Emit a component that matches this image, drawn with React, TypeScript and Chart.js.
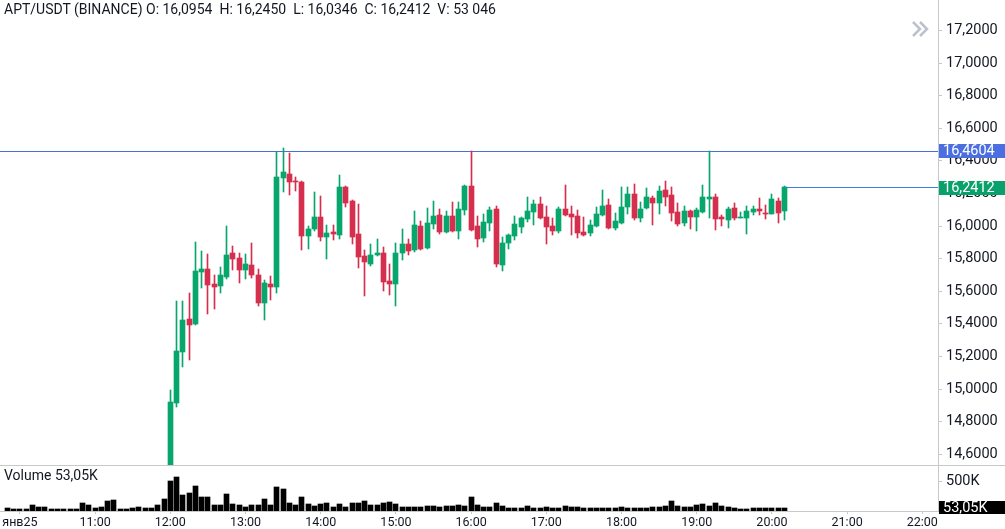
import React, { useEffect, useRef } from "react";
import { Chart, registerables } from "chart.js";
Chart.register(...registerables);

// ---------- data ----------
const START_MIN = 590; // 09:50, 5-minute candles
const STEP_MIN = 5;

const opens = [
  14.30, 14.31, 14.32, 14.31, 14.30, 14.24, 14.27, 14.29, 14.30, 14.29, 14.30, 14.31, 14.30, 14.38, 14.35, 14.34, 14.36, 14.44, 14.40, 14.41, 14.40, 14.42, 14.41, 14.42, 14.41, 14.44,
  14.42, 14.916, 15.229, 15.429, 15.401, 15.718, 15.736, 15.644, 15.632, 15.687, 15.834, 15.804, 15.730, 15.761, 15.699, 15.528, 15.644, 15.626, 16.294, 16.319,
  16.276, 16.270, 15.939, 15.982, 16.055, 15.933, 15.963, 15.945, 16.239, 16.153, 15.951, 15.816, 15.767, 15.822, 15.834, 15.663, 15.644, 15.834, 15.890, 15.853,
  16.000, 15.865, 16.012, 16.067, 15.963, 16.061, 15.969, 16.098, 16.245, 16.000, 15.926, 16.018, 16.104, 15.761, 15.896, 15.939, 15.994, 16.043, 16.086, 16.135,
  16.055, 16.000, 15.969, 16.104, 16.074, 16.061, 15.963, 15.957, 16.000, 16.067, 16.129, 15.988, 16.018, 16.117, 16.196, 16.049, 16.110, 16.172, 16.141, 16.221,
  16.190, 16.086, 16.018, 16.092, 16.055, 16.086, 16.166, 16.178, 16.055, 16.037, 16.110, 16.049, 16.049, 16.086, 16.104, 16.080, 16.074, 16.153, 16.0954,
];
const highs = [
  14.33, 14.33, 14.34, 14.33, 14.31, 14.28, 14.31, 14.31, 14.32, 14.31, 14.32, 14.33, 14.40, 14.41, 14.37, 14.38, 14.47, 14.50, 14.42, 14.43, 14.43, 14.46, 14.43, 14.44, 14.45, 14.50,
  14.994, 15.540, 15.540, 15.589, 15.902, 15.847, 15.828, 15.699, 15.748, 16.000, 15.877, 15.834, 15.828, 15.896, 15.736, 15.669, 15.693, 16.454, 16.480, 16.448,
  16.301, 16.276, 16.000, 16.209, 16.184, 16.006, 16.006, 16.313, 16.245, 16.160, 16.135, 15.853, 15.890, 15.920, 15.871, 15.767, 15.896, 15.982, 15.920, 16.092,
  16.031, 16.110, 16.153, 16.104, 16.092, 16.147, 16.147, 16.252, 16.4604, 16.061, 16.074, 16.117, 16.123, 15.933, 15.951, 16.061, 16.055, 16.178, 16.160, 16.178,
  16.123, 16.049, 16.117, 16.252, 16.123, 16.098, 16.055, 16.037, 16.117, 16.221, 16.166, 16.080, 16.239, 16.239, 16.258, 16.147, 16.233, 16.184, 16.245, 16.276,
  16.239, 16.141, 16.123, 16.098, 16.110, 16.252, 16.4604, 16.196, 16.067, 16.117, 16.141, 16.086, 16.123, 16.123, 16.172, 16.129, 16.196, 16.172, 16.2450,
];
const lows = [
  14.27, 14.29, 14.30, 14.29, 14.22, 14.21, 14.25, 14.27, 14.28, 14.27, 14.28, 14.29, 14.29, 14.33, 14.32, 14.33, 14.35, 14.38, 14.38, 14.39, 14.38, 14.40, 14.39, 14.40, 14.37, 14.36,
  14.38, 14.891, 15.137, 15.178, 15.393, 15.620, 15.460, 15.491, 15.589, 15.675, 15.730, 15.650, 15.675, 15.681, 15.509, 15.423, 15.546, 15.589, 16.209, 16.190,
  16.215, 15.853, 15.859, 15.969, 15.908, 15.798, 15.914, 15.920, 16.117, 15.890, 15.742, 15.571, 15.755, 15.816, 15.601, 15.577, 15.509, 15.791, 15.822, 15.840,
  15.853, 15.859, 15.982, 15.951, 15.957, 15.963, 15.920, 16.067, 15.969, 15.871, 15.902, 15.969, 15.749, 15.724, 15.859, 15.914, 15.957, 16.025, 16.006, 16.043,
  15.890, 15.945, 15.957, 16.061, 15.945, 15.926, 15.940, 15.939, 15.994, 16.061, 15.982, 15.975, 16.012, 16.074, 16.037, 16.025, 16.104, 16.006, 16.074, 16.123,
  16.031, 16.000, 16.000, 15.982, 15.969, 16.080, 16.049, 15.975, 16.000, 15.988, 16.037, 16.049, 15.951, 16.067, 16.067, 16.043, 16.074, 16.018, 16.0346,
];
const closes = [
  14.31, 14.32, 14.31, 14.30, 14.24, 14.27, 14.29, 14.30, 14.29, 14.30, 14.31, 14.30, 14.38, 14.35, 14.34, 14.36, 14.44, 14.40, 14.41, 14.40, 14.42, 14.41, 14.42, 14.41, 14.44, 14.42,
  14.920, 15.233, 15.423, 15.393, 15.724, 15.736, 15.638, 15.626, 15.699, 15.822, 15.798, 15.730, 15.767, 15.699, 15.528, 15.650, 15.626, 16.301, 16.331, 16.270,
  16.270, 15.939, 15.982, 16.055, 15.933, 15.957, 15.951, 16.239, 16.141, 15.933, 15.810, 15.779, 15.822, 15.834, 15.656, 15.644, 15.834, 15.890, 15.847, 16.006,
  15.859, 16.018, 16.061, 15.963, 16.061, 15.969, 16.104, 16.245, 15.975, 15.920, 16.025, 16.098, 15.767, 15.896, 15.945, 16.012, 16.049, 16.092, 16.135, 16.049,
  15.994, 15.969, 16.104, 16.067, 16.055, 15.957, 15.945, 16.006, 16.074, 16.123, 15.988, 16.031, 16.117, 16.196, 16.049, 16.104, 16.178, 16.141, 16.215, 16.178,
  16.080, 16.012, 16.092, 16.055, 16.098, 16.178, 16.178, 16.043, 16.043, 16.104, 16.049, 16.055, 16.092, 16.104, 16.092, 16.074, 16.166, 16.080, 16.2412,
];
const volumes = [
  51000, 34000, 34000, 34000, 102000, 73000, 73000, 34000, 34000, 34000, 34000, 34000, 141000, 102000, 51000, 62000, 164000, 181000, 34000, 34000, 51000, 73000, 51000, 51000, 102000, 209000,
  514000, 582000, 277000, 311000, 429000, 243000, 243000, 102000, 102000, 294000, 124000, 102000, 73000, 102000, 102000, 209000, 102000, 412000, 379000, 141000,
  102000, 243000, 124000, 85000, 124000, 136000, 68000, 119000, 68000, 136000, 141000, 175000, 102000, 102000, 136000, 158000, 119000, 68000, 68000, 68000,
  68000, 85000, 85000, 68000, 85000, 85000, 102000, 85000, 237000, 102000, 68000, 68000, 141000, 85000, 51000, 51000, 51000, 85000, 51000, 51000,
  68000, 51000, 51000, 85000, 68000, 68000, 51000, 51000, 51000, 51000, 51000, 51000, 68000, 51000, 51000, 51000, 51000, 68000, 68000, 85000,
  175000, 85000, 68000, 68000, 102000, 119000, 85000, 141000, 85000, 68000, 51000, 34000, 34000, 51000, 51000, 51000, 51000, 51000, 53046,
];
const times = opens.map((_, i) => START_MIN + STEP_MIN * i);

const priceTicks = [14.6, 14.8, 15.0, 15.2, 15.4, 15.6, 15.8, 16.0, 16.2, 16.4, 16.6, 16.8, 17.0, 17.2];
const timeTicks = [600, 660, 720, 780, 840, 900, 960, 1020, 1080, 1140, 1200, 1260, 1320];
const timeTickLabels = ["янв25", "11:00", "12:00", "13:00", "14:00", "15:00", "16:00", "17:00", "18:00", "19:00", "20:00", "21:00", "22:00"];
const volumeTicks = [500000];
const markedLevel = 16.4604;
const symbolTitle = "APT/USDT (BINANCE)";

// ---------- view ----------
const X_MIN = 584.1;
const X_MAX = 1332.5;
const P_MIN = 14.534;
const P_MAX = 17.387;
const V_MAX = 760000;
const UP = "#07a66d";
const DOWN = "#d62f4d";
const AXIS = "#c8c8c8";
const TEXT = "#131722";
const FONT = "Roboto";
const W = 1005;
const AXIS_W = 67;

const fmtPrice = (v: number) => v.toFixed(4).replace(".", ",");
const fmtVolK = (v: number) => (v / 1000).toFixed(2).replace(".", ",") + "K";
const fmtVolInt = (v: number) => String(Math.round(v)).replace(/\B(?=(\d{3})+(?!\d))/g, " ");

const snapPlugin = {
  id: "snap",
  afterDatasetsUpdate(chart: any) {
    chart.data.datasets.forEach((_: any, di: number) => {
      const meta = chart.getDatasetMeta(di);
      meta.data.forEach((el: any) => {
        const w = Math.round(el.width);
        el.x = w % 2 === 1 ? Math.floor(el.x) + 0.5 : Math.round(el.x);
        el.y = Math.round(el.y);
        el.base = Math.round(el.base);
      });
    });
  },
};

const noPad = (s: any) => {
  s.paddingTop = 0;
  s.paddingBottom = 0;
  s.paddingLeft = 0;
  s.paddingRight = 0;
};

function axisBox(ctx: any, x: number, yc: number, text: string, bg: string, h = 14) {
  const top = Math.round(yc - h / 2);
  ctx.fillStyle = bg;
  ctx.fillRect(x, top, W - x, h);
  ctx.fillStyle = "#ffffff";
  ctx.font = `14.5px ${FONT}`;
  ctx.textBaseline = "middle";
  ctx.textAlign = "left";
  ctx.fillText(text, x + 4, top + h / 2 + 0.5);
}

const priceOverlay = {
  id: "priceOverlay",
  beforeDatasetsDraw(chart: any) {
    const { ctx, chartArea, scales } = chart;
    const y = scales.y;
    ctx.save();
    ctx.strokeStyle = "#4a6fd9";
    ctx.lineWidth = 1;
    const yh = Math.round(y.getPixelForValue(markedLevel)) + 0.5;
    ctx.beginPath();
    ctx.moveTo(0, yh);
    ctx.lineTo(chartArea.right, yh);
    ctx.stroke();
    ctx.restore();
  },
  afterDraw(chart: any) {
    const { ctx, chartArea, scales } = chart;
    const x = scales.x;
    const y = scales.y;
    const last = closes.length - 1;
    ctx.save();
    const yc = Math.round(y.getPixelForValue(closes[last])) + 0.5;
    const xl = Math.round(x.getPixelForValue(times[last])) + 3;
    ctx.strokeStyle = "#3f7fe0";
    ctx.lineWidth = 1;
    ctx.beginPath();
    ctx.moveTo(xl, yc);
    ctx.lineTo(chartArea.right, yc);
    ctx.stroke();
    const yh = y.getPixelForValue(markedLevel);
    axisBox(ctx, chartArea.right + 1, yh, fmtPrice(markedLevel), "#4b6fe0");
    axisBox(ctx, chartArea.right + 1, yc, fmtPrice(closes[last]), "#08a06b");
    // scroll chevrons
    ctx.strokeStyle = "#bcc2cc";
    ctx.lineWidth = 2.5;
    ctx.lineCap = "butt";
    [913, 920].forEach((sx) => {
      ctx.beginPath();
      ctx.moveTo(sx, 22);
      ctx.lineTo(sx + 7, 29);
      ctx.lineTo(sx, 36);
      ctx.stroke();
    });
    ctx.restore();
  },
};

const volumeOverlay = {
  id: "volumeOverlay",
  afterDraw(chart: any) {
    const { ctx, chartArea } = chart;
    const last = volumes.length - 1;
    ctx.save();
    const h = 13;
    const top = 35;
    ctx.fillStyle = "#000000";
    ctx.fillRect(chartArea.right + 1, top, W - chartArea.right - 1, h);
    ctx.fillStyle = "#ffffff";
    ctx.font = `14.5px ${FONT}`;
    ctx.textBaseline = "middle";
    ctx.textAlign = "left";
    ctx.fillText(fmtVolK(volumes[last]), chartArea.right + 5, top + h / 2 + 0.5);
    ctx.restore();
  },
};

export default function App() {
  const priceRef = useRef<HTMLCanvasElement>(null);
  const volRef = useRef<HTMLCanvasElement>(null);

  useEffect(() => {
    const colors = opens.map((o, i) => (closes[i] >= o ? UP : DOWN));
    const price = new Chart(priceRef.current!, {
      type: "bar",
      data: {
        datasets: [
          {
            label: "body",
            data: times.map((t, i) => ({ x: t, y: [opens[i], closes[i]] })) as any,
            backgroundColor: colors,
            borderWidth: 0,
            barThickness: 5,
            minBarLength: 1,
            grouped: false,
          },
          {
            label: "wick",
            data: times.map((t, i) => ({ x: t, y: [lows[i], highs[i]] })) as any,
            backgroundColor: colors,
            borderWidth: 0,
            barThickness: 1,
            grouped: false,
          },
        ],
      },
      options: {
        animation: false,
        responsive: false,
        maintainAspectRatio: false,
        layout: { padding: 0 },
        plugins: { legend: { display: false }, tooltip: { enabled: false } },
        scales: {
          x: { type: "linear", min: X_MIN, max: X_MAX, display: false, offset: false, grid: { offset: false } },
          y: {
            type: "linear",
            position: "right",
            min: P_MIN,
            max: P_MAX,
            afterFit(s: any) {
              s.width = AXIS_W;
              noPad(s);
            },
            afterBuildTicks(s: any) {
              s.ticks = priceTicks.map((v) => ({ value: v }));
            },
            ticks: {
              callback: (v: any) => fmtPrice(Number(v)),
              font: { family: FONT, size: 14.5 },
              color: TEXT,
              padding: 4,
            },
            grid: { drawOnChartArea: false, tickLength: 4, color: AXIS },
            border: { color: AXIS },
          },
        },
      } as any,
      plugins: [snapPlugin, priceOverlay],
    });

    const vol = new Chart(volRef.current!, {
      type: "bar",
      data: {
        datasets: [
          {
            label: "Volume",
            data: times.map((t, i) => ({ x: t, y: volumes[i] })) as any,
            backgroundColor: "#000000",
            borderWidth: 0,
            barThickness: 5,
            grouped: false,
          },
        ],
      },
      options: {
        animation: false,
        responsive: false,
        maintainAspectRatio: false,
        layout: { padding: 0 },
        plugins: { legend: { display: false }, tooltip: { enabled: false } },
        scales: {
          x: {
            type: "linear",
            min: X_MIN,
            max: X_MAX,
            offset: false,
            afterFit(s: any) {
              s.height = 18;
              noPad(s);
            },
            afterBuildTicks(s: any) {
              s.ticks = timeTicks.map((v) => ({ value: v }));
            },
            ticks: {
              callback: (v: any) => timeTickLabels[timeTicks.indexOf(Number(v))],
              font: { family: FONT, size: 12.5 },
              color: TEXT,
              padding: 1,
              maxRotation: 0,
              autoSkip: false,
            },
            grid: { drawOnChartArea: false, tickLength: 3, color: AXIS, offset: false },
            border: { color: AXIS },
          },
          y: {
            type: "linear",
            position: "right",
            min: 0,
            max: V_MAX,
            afterFit(s: any) {
              s.width = AXIS_W;
              noPad(s);
            },
            afterBuildTicks(s: any) {
              s.ticks = volumeTicks.map((v) => ({ value: v }));
            },
            ticks: {
              callback: (v: any) => Math.round(Number(v) / 1000) + "K",
              font: { family: FONT, size: 14.5 },
              color: TEXT,
              padding: 4,
            },
            grid: { drawOnChartArea: false, tickLength: 4, color: AXIS },
            border: { color: AXIS },
          },
        },
      } as any,
      plugins: [snapPlugin, volumeOverlay],
    });

    return () => {
      price.destroy();
      vol.destroy();
    };
  }, []);

  const last = closes.length - 1;
  const header = `${symbolTitle} O: ${fmtPrice(opens[last])}  H: ${fmtPrice(highs[last])}  L: ${fmtPrice(lows[last])}  C: ${fmtPrice(closes[last])}  V: ${fmtVolInt(volumes[last])}`;

  return (
    <div style={{ position: "fixed", left: 0, top: 0, width: W, height: 529, background: "#ffffff", overflow: "hidden", fontFamily: FONT }}>
      <canvas ref={priceRef} width={W} height={465} style={{ position: "absolute", left: 0, top: 0, width: W, height: 465 }} />
      <div style={{ position: "absolute", left: 0, top: 465, width: W, height: 1, background: AXIS }} />
      <canvas ref={volRef} width={W} height={63} style={{ position: "absolute", left: 0, top: 466, width: W, height: 63 }} />
      <div style={{ position: "absolute", left: 4, top: 1, fontSize: 14, lineHeight: "16px", color: TEXT, whiteSpace: "pre" }}>{header}</div>
      <div style={{ position: "absolute", left: 4, top: 467, fontSize: 14, lineHeight: "16px", color: TEXT, whiteSpace: "pre" }}>{`Volume ${fmtVolK(volumes[last])}`}</div>
    </div>
  );
}
